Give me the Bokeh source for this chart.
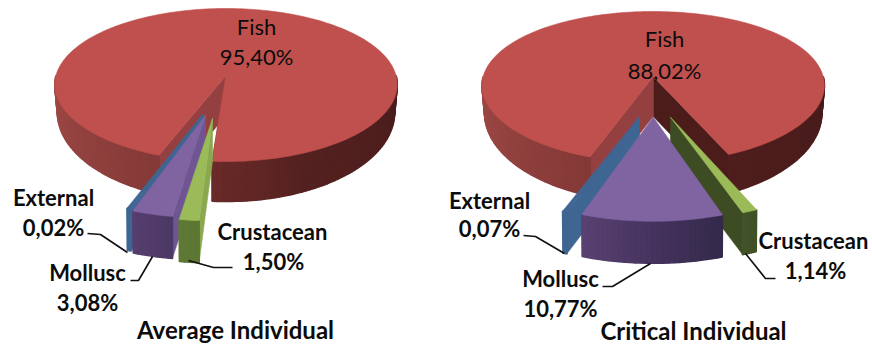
import math
from bokeh.plotting import figure
from bokeh.embed import file_html
from bokeh.resources import INLINE
from bokeh.core.properties import value

# ---- data
categories = ["External", "Mollusc", "Crustacean", "Fish"]
average_values = [0.02, 3.08, 1.50, 95.40]
critical_values = [0.07, 10.77, 1.14, 88.02]
average_labels = ["0,02%", "3,08%", "1,50%", "95,40%"]
critical_labels = ["0,07%", "10,77%", "1,14%", "88,02%"]
panel_titles = ["Average Individual", "Critical Individual"]

# ---- drawing parameters
MIN_DEG = 1.2
RX, PERSP = 170.0, 0.12
RY = [76.5, 9.5]
TOP = {"External": "#3f6592", "Mollusc": "#8064a2", "Crustacean": "#9bbb59", "Fish": "#c0504d"}

def lerp_color(stops, t):
    def rgb(h):
        return [int(h[i:i + 2], 16) for i in (1, 3, 5)]
    if t <= stops[0][0]:
        return stops[0][1]
    for (a, ca), (b, cb) in zip(stops, stops[1:]):
        if t <= b:
            f = (t - a) / (b - a)
            c = [round(u + (v - u) * f) for u, v in zip(rgb(ca), rgb(cb))]
            return "#%02x%02x%02x" % tuple(c)
    return stops[-1][1]

def rim(th, ax, ay, kx=1.0, ky=1.0):
    r = math.radians(th)
    s, c = math.sin(r), math.cos(r)
    return ax + kx * RX * s * (1 + PERSP * c), ay + ky * (RY[0] * c + RY[1] * c * c)

polys_x, polys_y, polys_c, polys_w = [], [], [], []

def add(pts, color, lw=0.6):
    polys_x.append([q[0] for q in pts])
    polys_y.append([q[1] for q in pts])
    polys_c.append(color)
    polys_w.append(lw)

def arc(a, b, n=None):
    n = n or max(2, int(abs(b - a) / 1.5) + 1)
    return [a + (b - a) * i / n for i in range(n + 1)]

def wall(a, b, ax, ay, kx, ky, depth, shrink, stops):
    ths = arc(a, b)
    for t0, t1 in zip(ths, ths[1:]):
        p0, p1 = rim(t0, ax, ay, kx, ky), rim(t1, ax, ay, kx, ky)
        q0 = (ax + (p0[0] - ax) * shrink, p0[1] + depth(t0))
        q1 = (ax + (p1[0] - ax) * shrink, p1[1] + depth(t1))
        add([p0, p1, q1, q0], lerp_color(stops, (t0 + t1) / 2), 1.6)

def face(a_pt, r_pt, d, color):
    add([a_pt, r_pt, (r_pt[0], r_pt[1] + d), (a_pt[0], a_pt[1] + d)], color)

def draw_fish(val, mid, ax, ay, ry, stops, left_cut, right_cut):
    saved = RY[:]
    RY[:] = ry
    w = val * 3.6
    a, b = mid - w / 2, mid + w / 2
    dep = lambda t: 26 + 14 * max(0.0, math.cos(math.radians(t)))
    ap = (ax, ay)
    face(ap, rim(a, ax, ay), 40, right_cut)
    face(ap, rim(b, ax, ay), 40, left_cut)
    wall(a, 90, ax, ay, 1, 1, dep, 0.985, stops)
    wall(-90, b - 360, ax, ay, 1, 1, dep, 0.985, stops)
    pts = [ap] + [rim(t, ax, ay) for t in arc(a, b)]
    add(pts, TOP["Fish"])
    RY[:] = saved

def draw_slice(name, val, mid, ax, ay, kx, ky, stops, lc, rc):
    w = max(val * 3.6, MIN_DEG)
    a, b = mid - w / 2, mid + w / 2
    ap = (ax, ay)
    dep = lambda t: 42
    if lc:
        face(ap, rim(a, ax, ay, kx, ky), 42, lc)
    if rc:
        face(ap, rim(b, ax, ay, kx, ky), 42, rc)
    wall(a, b, ax, ay, kx, ky, dep, 0.995, stops)
    pts = [ap] + [rim(t, ax, ay, kx, ky) for t in arc(a, b)]
    add(pts, TOP[name])

# ---- left panel
draw_fish(average_values[3], 167.5, 225.5, 75, [76.5, 9.5],
          [(-90, "#a24b48"), (-22, "#853a38"), (-5, "#6b2b29"), (25, "#532120"), (90, "#4a1c1c")],
          "#954040", "#4f1e1d")
draw_slice("External", average_values[0], -20.6, 203, 113, 1.12, 1.19,
           [(-30, "#3f6592"), (0, "#3f6592")], None, "#3f6592")
draw_slice("Mollusc", average_values[1], -14.5, 205, 115, 1.12, 1.19,
           [(-21, "#573f70"), (-8, "#4c3864")], None, "#6f5692")
draw_slice("Crustacean", average_values[2], -6.3, 212, 118, 1.12, 1.19,
           [(-9, "#5f7a35"), (-3, "#5c7534")], None, "#8aa94f")

# ---- right panel
draw_fish(critical_values[3], 182, 652.7, 76, [75.5, 10.5],
          [(-90, "#a24b48"), (-22, "#853a38"), (20, "#4f1e1d"), (90, "#471b1b")],
          "#954040", "#4c1c1b")
draw_slice("External", critical_values[0], -20.7, 639, 116, 1.12, 1.19,
           [(-30, "#3f6592"), (0, "#3f6592")], None, "#3f6592")
draw_slice("Crustacean", critical_values[2], 22, 670, 116.7, 1.12, 1.19,
           [(19, "#44552a"), (25, "#3f4f25")], "#3e4c24", None)
draw_slice("Mollusc", critical_values[1], -0.3, 652.7, 116.7, 1.12, 1.21,
           [(-20, "#5a4272"), (0, "#46335e"), (20, "#322a4a")], None, None)

# ---- figure: data units equal picture pixels
p = figure(width=872, height=345, x_range=(0, 872), y_range=(345, 0),
           output_backend="svg", toolbar_location=None, min_border=0)
p.axis.visible = False
p.grid.visible = False
p.outline_line_color = None
p.background_fill_color = "#ffffff"

p.patches(polys_x, polys_y, fill_color=polys_c, line_color=polys_c, line_width=polys_w)

leaders = [
    ([87, 100, 127], [233, 234, 252]),
    ([130, 138, 152], [280, 280, 256]),
    ([188, 213, 232], [260, 267, 267]),
    ([523, 535, 564], [235, 236, 253]),
    ([602, 612, 650], [286, 286, 263]),
    ([745, 765, 775], [253, 278, 278]),
]
for lx, ly in leaders:
    p.line(lx, ly, line_color="#111111", line_width=1.6)

def label(x, y, txt, size=22, style="bold"):
    p.text([x], [y], text=[txt], text_font=value("Lato"), text_font_size=f"{size}px",
           text_font_style=style, text_color="#0c0c0c", text_align="center", text_baseline="middle")

a, c = average_labels, critical_labels
label(256, 26, categories[3], 22, "normal")
label(256, 56, a[3], 22, "normal")
label(53, 197, categories[0]); label(53, 227, a[0])
label(87, 272, categories[1]); label(87, 302, a[1])
label(272, 231, categories[2]); label(273, 261, a[2])
label(235, 329, panel_titles[0], 24)
label(664, 38, categories[3], 22, "normal")
label(664, 70, c[3], 22, "normal")
label(489, 200, categories[0]); label(489, 228, c[0])
label(560, 278, categories[1]); label(560, 308, c[1])
label(813, 240, categories[2]); label(815, 270, c[2])
label(693, 330, panel_titles[1], 24)

open("out.html", "w").write(file_html(p, INLINE))
